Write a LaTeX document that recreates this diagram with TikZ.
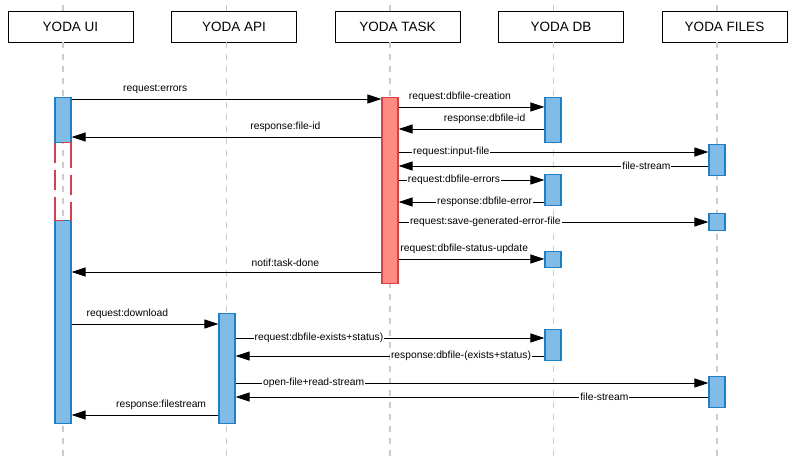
\documentclass[tikz,border=0pt]{standalone}
\usepackage{fontspec}
\setmainfont{Liberation Sans}
\usetikzlibrary{positioning,arrows.meta}

\definecolor{lifegray}{HTML}{CCCCCC}
\definecolor{barfill}{HTML}{80BCE6}
\definecolor{barline}{HTML}{1F7FC4}
\definecolor{taskfill}{HTML}{FF8A80}
\definecolor{taskline}{HTML}{D6404A}

\tikzset{
  actor/.style={draw,fill=white,line width=0.9pt,minimum width=125pt,minimum height=31pt,inner sep=0pt,font=\fontsize{13.5}{16}\selectfont},
  life/.style={lifegray,line width=1.2pt,dash pattern=on 6pt off 6pt},
  bar/.style={draw=barline,fill=barfill,line width=1.2pt,minimum width=16pt,inner sep=0pt,anchor=north},
  taskbar/.style={bar,draw=taskline,fill=taskfill},
  waitbar/.style={bar,draw=taskline,fill=none,
    dash pattern=on 8pt off 7pt on 20pt off 7pt on 20pt off 7pt on 34pt off 7pt on 20pt off 7pt on 20pt off 7pt on 24pt},
  msg/.style={-{Triangle[length=14pt,width=9pt]},line width=1pt},
  over/.style={above=4pt,inner sep=1pt,font=\fontsize{10.3}{12}\selectfont},
  onl/.style={fill=white,inner sep=1pt,font=\fontsize{10.3}{12}\selectfont}
}

\begin{document}
\begin{tikzpicture}[x=1pt,y=-1pt,node distance=163.5pt,on grid]
   \useasboundingbox (0,0) rectangle (796,461);
   % participants
   \node[actor] (ui) at (70.5,26.5) {YODA UI};
   \node[actor] (api)   [right=of ui]   {YODA API};
   \node[actor] (task)  [right=of api]  {YODA TASK};
   \node[actor] (db)    [right=of task] {YODA DB};
   \node[actor] (files) [right=of db]   {YODA FILES};
   \foreach \n in {ui,api,task,db,files} {
      \draw[life] ([xshift=-7.5pt]\n.north) -- ++(0,-11);
      \draw[life] ([xshift=-7.5pt]\n.south) -- ++(0,419);
   }
   % activations
   \node[bar,minimum height=45pt]      (ui1)    at (63,97)  {};
   \node[bar,minimum height=203pt]     (ui2)    at (63,220) {};
   \node[waitbar,minimum height=78pt]  (uiwait) at (63,142) {};
   \node[bar,minimum height=110pt]     (api1)   at (227,313) {};
   \node[taskbar,minimum height=186pt] (run)    at (390,97) {};
   \node[bar,minimum height=45pt]      (db1)    at (553,97)  {};
   \node[bar,minimum height=31pt]      (db2)    at (553,174) {};
   \node[bar,minimum height=16pt]      (db3)    at (553,251) {};
   \node[bar,minimum height=31pt]      (db4)    at (553,329) {};
   \node[bar,minimum height=31pt]      (files1) at (717,144) {};
   \node[bar,minimum height=17pt]      (files2) at (717,213) {};
   \node[bar,minimum height=31pt]      (files3) at (717,376) {};
   % messages
   \draw[msg] (ui1.east |- 0,99) -- node[over,pos=.27] {request:errors} (run.west |- 0,99);
   \draw[msg] (run.west |- 0,137) -- node[over,pos=.31] {response:file-id} (ui1.east |- 0,137);
   \draw[msg] (run.east |- 0,107) -- node[over,pos=.42] {request:dbfile-creation} (db1.west |- 0,107);
   \draw[msg] (db1.west |- 0,129) -- node[over,pos=.41] {response:dbfile-id} (run.east |- 0,129);
   \draw[msg] (run.east |- 0,152) -- node[onl,pos=.17] {request:input-file} (files1.west |- 0,152);
   \draw[msg] (files1.west |- 0,166) -- node[onl,pos=.2] {file-stream} (run.east |- 0,166);
   \draw[msg] (run.east |- 0,180) -- node[onl,pos=.38] {request:dbfile-errors} (db2.west |- 0,180);
   \draw[msg] (db2.west |- 0,202) -- node[onl,pos=.41] {response:dbfile-error} (run.east |- 0,202);
   \draw[msg] (run.east |- 0,222) -- node[onl,pos=.28] {request:save-generated-error-file} (files2.west |- 0,222);
   \draw[msg] (run.east |- 0,259) -- node[over,pos=.45] {request:dbfile-status-update} (db3.west |- 0,259);
   \draw[msg] (run.west |- 0,272) -- node[over,pos=.31] {notif:task-done} (ui2.east |- 0,272);
   \draw[msg] (ui2.east |- 0,324) -- node[over,pos=.38] {request:download} (api1.west |- 0,324);
   \draw[msg] (api1.east |- 0,338) -- node[onl,pos=.27] {request:dbfile-exists+status)} (db4.west |- 0,338);
   \draw[msg] (db4.west |- 0,356) -- node[onl,pos=.27] {response:dbfile-(exists+status)} (api1.east |- 0,356);
   \draw[msg] (api1.east |- 0,383) -- node[onl,pos=.165] {open-file+read-stream} (files3.west |- 0,383);
   \draw[msg] (files3.west |- 0,397) -- node[onl,pos=.22] {file-stream} (api1.east |- 0,397);
   \draw[msg] (api1.west |- 0,415) -- node[over,pos=.39] {response:filestream} (ui2.east |- 0,415);
\end{tikzpicture}
\end{document}
